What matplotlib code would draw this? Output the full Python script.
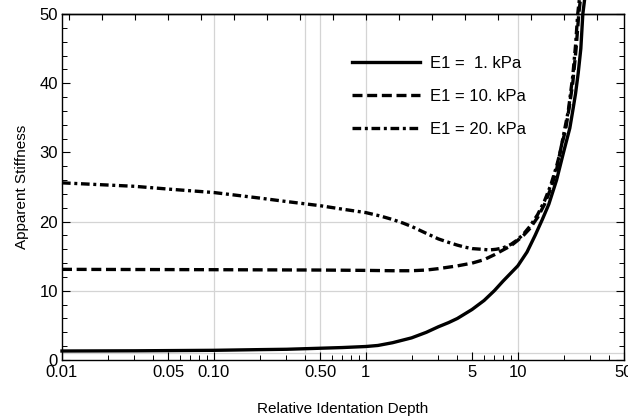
import numpy as np
import matplotlib
matplotlib.use("Agg")
import matplotlib.pyplot as plt
from matplotlib.ticker import FixedLocator, NullFormatter

plt.rcParams['font.family'] = ['Liberation Sans', 'DejaVu Sans']

# E1 = 1 kPa
x1 = [0.01, 0.03, 0.1, 0.2, 0.3, 0.5, 0.7, 1, 1.2, 1.5, 2, 2.5, 3, 3.5, 4, 5, 6, 7, 8, 10,
      11.5, 13, 14.5, 16, 18, 20, 22, 23, 24, 25, 26, 26.8, 27.5]
y1 = [1.3, 1.33, 1.4, 1.5, 1.55, 1.7, 1.8, 1.95, 2.1, 2.5, 3.2, 4.0, 4.8, 5.4, 6.0, 7.3, 8.6, 10.0, 11.4, 13.6,
      15.6, 18.0, 20.3, 22.5, 26.0, 30.0, 33.5, 36.0, 38.5, 41.5, 45.0, 50.0, 52.0]
# E1 = 10 kPa
x2 = [0.01, 0.1, 0.5, 1, 1.5, 2, 2.5, 3, 4, 5, 6, 7, 8, 9, 10, 11, 12, 13.5, 15, 16.5, 18,
      19.3, 20.6, 21.8, 23, 24.2, 25.2, 25.8]
y2 = [13.1, 13.05, 13.0, 12.95, 12.9, 12.9, 13.0, 13.2, 13.6, 14.0, 14.5, 15.2, 15.9, 16.5, 17.3, 18.1, 19.0, 20.6, 22.5, 24.8, 27.5,
      30.8, 33.2, 36.5, 40.0, 45.0, 50.0, 52.0]
# E1 = 20 kPa
x3 = [0.01, 0.03, 0.05, 0.1, 0.2, 0.3, 0.5, 0.7, 1, 1.25, 1.5, 1.75, 2, 2.5, 3, 3.5, 4, 4.5, 5, 5.8,
      6.5, 7.2, 8, 9, 10, 11, 12, 13.5, 15, 16.5, 18, 19, 20, 21.5, 23, 24, 24.8, 25.4]
y3 = [25.6, 25.1, 24.7, 24.2, 23.4, 22.9, 22.3, 21.8, 21.3, 20.8, 20.3, 19.8, 19.3, 18.3, 17.5, 17.0, 16.6, 16.3, 16.1, 16.0,
      15.9, 16.0, 16.2, 16.7, 17.4, 18.3, 19.3, 21.0, 23.0, 25.3, 28.0, 30.0, 32.5, 36.0, 41.0, 45.5, 50.0, 52.0]

labels = ['E1 =  1. kPa', 'E1 = 10. kPa', 'E1 = 20. kPa']
xticks = [0.01, 0.05, 0.1, 0.5, 1, 5, 10, 50]
xticklabels = ['0.01', '0.05', '0.10', '0.50', '1', '5', '10', '50']

fig = plt.figure(figsize=(6.28, 4.19), dpi=100)
ax = fig.add_axes([0.0987, 0.1408, 0.8949, 0.8258])

lw = 2.4
ax.plot(x1, y1, color='black', lw=lw, ls='-', label=labels[0], clip_on=False)
ax.plot(x2, y2, color='black', lw=lw, ls=(0, (3.0, 1.4)), label=labels[1], clip_on=False)
ax.plot(x3, y3, color='black', lw=lw, ls=(0, (2.6, 1.1, 0.9, 1.1)), label=labels[2], clip_on=False)

ax.set_xscale('log')
ax.set_xlim(0.01, 50)
ax.set_ylim(0, 50)

# grid lines
for gx in [0.1, 0.4, 0.5, 1, 10]:
    ax.axvline(gx, color='#d4d4d4', lw=0.9, zorder=0)
for gy in [1, 10, 20]:
    ax.axhline(gy, color='#d4d4d4', lw=0.9, zorder=0)

ax.set_xticks(xticks)
ax.set_xticklabels(xticklabels)
minor = [m * d for d in [0.01, 0.1, 1, 10] for m in range(2, 10)]
ax.xaxis.set_minor_locator(FixedLocator([v for v in minor if v < 50 and v not in xticks]))
ax.xaxis.set_minor_formatter(NullFormatter())
ax.set_yticks([0, 10, 20, 30, 40, 50])
ax.yaxis.set_minor_locator(FixedLocator([v for v in range(0, 51, 2) if v % 10]))

ax.tick_params(which='both', direction='in', labelsize=12, colors='black',
               left=True, right=True, bottom=True, top=False)
ax.tick_params(which='major', length=6, width=0.8)
ax.tick_params(which='minor', length=3.5, width=0.7)
ax.tick_params(axis='y', which='major', pad=3)
ax.tick_params(axis='x', which='major', pad=3.5)

# top ticks, evenly spaced in log
top = ax.secondary_xaxis('top')
top.set_xticks(10 ** (-1.954 + 0.2171 * np.arange(17)))
top.xaxis.set_minor_locator(FixedLocator([]))
top.tick_params(direction='in', length=4.5, width=0.8, labeltop=False)
top.spines['top'].set_linewidth(1.0)

for s in ax.spines.values():
    s.set_linewidth(1.0)

ax.set_xlabel('Relative Identation Depth', fontsize=11)
ax.set_ylabel('Apparent Stiffness', fontsize=11)
ax.xaxis.set_label_coords(0.5, -0.12)
ax.yaxis.set_label_coords(-0.059, 0.5)

ax.legend(loc='upper left', bbox_to_anchor=(0.489, 0.922), frameon=False,
          fontsize=12, handlelength=4.1, handletextpad=0.6, labelspacing=1.07)

fig.savefig('out.png', dpi=100)
